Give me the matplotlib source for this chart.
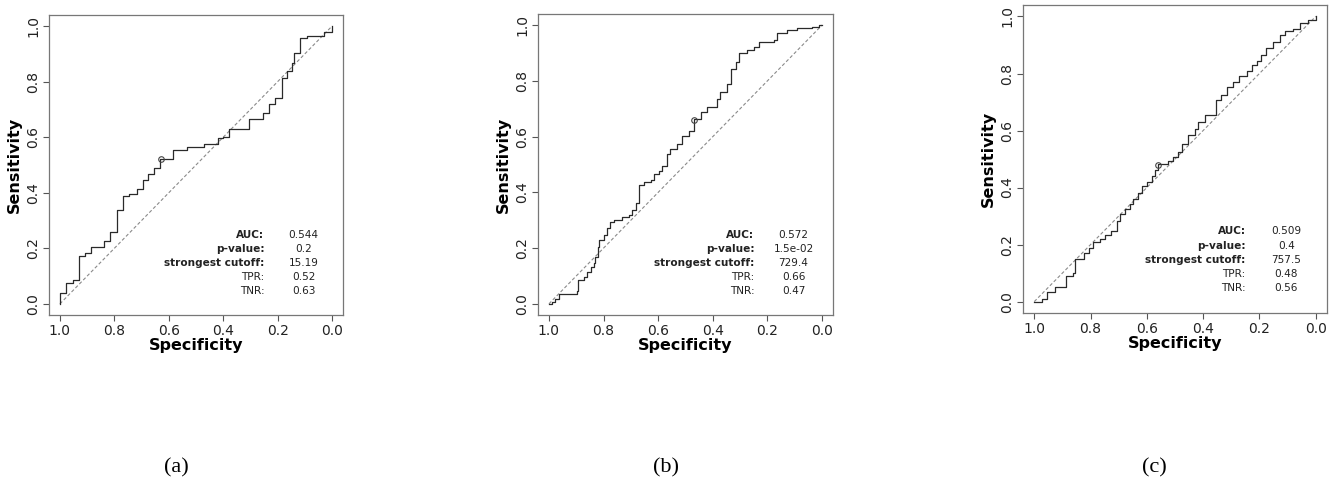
import numpy as np
import matplotlib
matplotlib.use("Agg")
import matplotlib.pyplot as plt

# ROC step corners: (specificity, sensitivity reached after the jump)
spec_a = [1.0, 1.0, 0.978, 0.953, 0.931, 0.908, 0.887, 0.838, 0.816, 0.791, 0.767,
          0.745, 0.718, 0.696, 0.675, 0.653, 0.632, 0.583, 0.534, 0.472, 0.42,
          0.40, 0.38, 0.307, 0.255, 0.233, 0.209, 0.184, 0.166, 0.148, 0.141,
          0.116, 0.092, 0.03, 0.0]
sens_a = [0.0, 0.04, 0.075, 0.087, 0.174, 0.184, 0.206, 0.226, 0.26, 0.337, 0.389,
          0.395, 0.414, 0.446, 0.468, 0.489, 0.522, 0.555, 0.565, 0.577, 0.597,
          0.60, 0.631, 0.664, 0.686, 0.718, 0.740, 0.813, 0.837, 0.867, 0.903,
          0.958, 0.966, 0.98, 1.0]

spec_b = [1.0, 0.99, 0.976, 0.963, 0.896, 0.893, 0.872, 0.86, 0.847, 0.835, 0.83,
          0.82, 0.815, 0.80, 0.787, 0.775, 0.762, 0.744, 0.732, 0.707, 0.695,
          0.683, 0.671, 0.652, 0.628, 0.616, 0.598, 0.585, 0.567, 0.555, 0.530,
          0.512, 0.488, 0.47, 0.445, 0.421, 0.384, 0.372, 0.348, 0.333, 0.317,
          0.305, 0.274, 0.25, 0.232, 0.177, 0.165, 0.128, 0.091, 0.037, 0.012, 0.0]
sens_b = [0.0, 0.006, 0.018, 0.034, 0.045, 0.084, 0.096, 0.114, 0.133, 0.145, 0.169,
          0.205, 0.229, 0.247, 0.271, 0.292, 0.299, 0.301, 0.313, 0.319, 0.337,
          0.361, 0.428, 0.436, 0.446, 0.464, 0.476, 0.494, 0.536, 0.554, 0.572,
          0.602, 0.620, 0.663, 0.687, 0.705, 0.735, 0.759, 0.789, 0.843, 0.867,
          0.90, 0.91, 0.92, 0.94, 0.946, 0.97, 0.982, 0.988, 0.994, 1.0, 1.0]

spec_c = [1.0, 0.973, 0.953, 0.926, 0.887, 0.863, 0.855, 0.825, 0.804, 0.79, 0.766,
          0.748, 0.728, 0.707, 0.695, 0.677, 0.66, 0.648, 0.63, 0.618, 0.60,
          0.583, 0.571, 0.561, 0.524, 0.506, 0.488, 0.476, 0.453, 0.429, 0.417,
          0.394, 0.355, 0.338, 0.317, 0.293, 0.272, 0.243, 0.228, 0.21, 0.193,
          0.175, 0.151, 0.128, 0.11, 0.08, 0.057, 0.027, 0.0]
sens_c = [0.0, 0.008, 0.032, 0.051, 0.091, 0.10, 0.149, 0.171, 0.188, 0.208, 0.22,
          0.232, 0.247, 0.282, 0.306, 0.324, 0.341, 0.359, 0.382, 0.406, 0.418,
          0.441, 0.462, 0.482, 0.494, 0.506, 0.526, 0.553, 0.585, 0.606, 0.629,
          0.653, 0.706, 0.726, 0.753, 0.771, 0.792, 0.808, 0.829, 0.844, 0.865,
          0.888, 0.912, 0.935, 0.949, 0.955, 0.976, 0.988, 1.0]

# best threshold point (specificity, sensitivity)
best_a = (0.63, 0.52)
best_b = (0.47, 0.66)
best_c = (0.56, 0.48)

stat_labels = ["AUC:", "p-value:", "strongest cutoff:", "TPR:", "TNR:"]
stat_bold = [True, True, True, False, False]
stats_a = ["0.544", "0.2", "15.19", "0.52", "0.63"]
stats_b = ["0.572", "1.5e-02", "729.4", "0.66", "0.47"]
stats_c = ["0.509", "0.4", "757.5", "0.48", "0.56"]

captions = ["(a)", "(b)", "(c)"]
chance = [1.0, 0.0]

# axes boxes in figure fraction [left, bottom, width, height]
boxes = [[0.0367, 0.3545, 0.2202, 0.6148],
         [0.4030, 0.3545, 0.2210, 0.6170],
         [0.7663, 0.3586, 0.2277, 0.6310]]
caption_x = [176 / 1335, 666 / 1335, 1154 / 1335]

fig = plt.figure(figsize=(13.35, 4.88), dpi=100)

panels = [(spec_a, sens_a, best_a, stats_a),
          (spec_b, sens_b, best_b, stats_b),
          (spec_c, sens_c, best_c, stats_c)]

for k, (spec, sens, best, stats) in enumerate(panels):
    ax = fig.add_axes(boxes[k])
    ax.plot(chance, chance[::-1], ls=(0, (3, 2)), color="#8a8a8a", lw=0.8)
    ax.step(spec, sens, where="post", color="#2a2a2a", lw=0.9)
    ax.plot(best[0], best[1], "o", ms=4, mfc="none", mec="#444444", mew=0.8)

    ax.set_xlim(1.04, -0.04)
    ax.set_ylim(-0.04, 1.04)
    ticks = np.arange(0, 1.01, 0.2)
    ax.set_xticks(ticks)
    ax.set_yticks(ticks)
    ax.set_xticklabels(["%.1f" % t for t in ticks])
    ax.set_yticklabels(["%.1f" % t for t in ticks], rotation=90, va="center")
    ax.tick_params(labelsize=10, length=4, width=0.8, color="#555555",
                   labelcolor="#222222", pad=2.5)
    for s in ax.spines.values():
        s.set_color("#777777")
        s.set_linewidth(0.9)
    ax.set_xlabel("Specificity", fontsize=11.5, fontweight="bold", labelpad=0)
    ax.set_ylabel("Sensitivity", fontsize=11.5, fontweight="bold", labelpad=3)

    for r in range(5):
        y = 0.265 - 0.046 * r
        ax.text(0.733, y, stat_labels[r], transform=ax.transAxes, ha="right",
                va="center", fontsize=7.6, color="#222222",
                fontweight="bold" if stat_bold[r] else "normal")
        ax.text(0.866, y, stats[r], transform=ax.transAxes, ha="center",
                va="center", fontsize=7.6, color="#222222")

    fig.text(caption_x[k], 0.041, captions[k], ha="center", va="center",
             fontsize=16, family="Liberation Serif")

fig.savefig("out.png", dpi=100)
